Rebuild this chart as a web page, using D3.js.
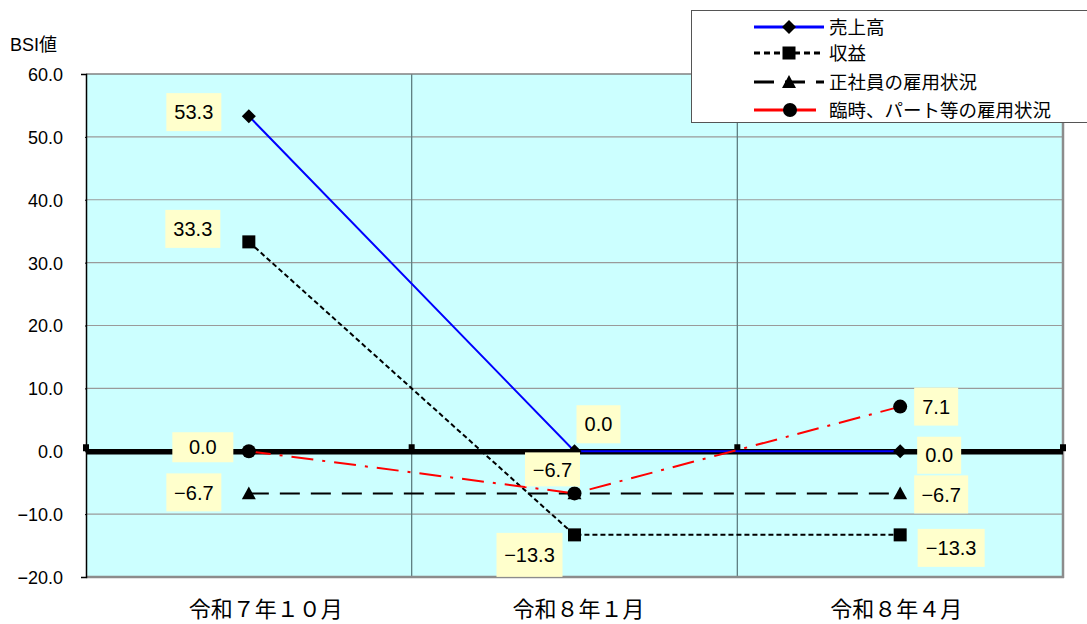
<!DOCTYPE html>
<html lang="ja">
<head>
<meta charset="utf-8">
<script src="https://cdn.jsdelivr.net/npm/d3@7"></script>
<style>
  html, body { margin: 0; padding: 0; background: #fff; }
  svg { display: block; }
  .num { font-family: "Liberation Sans", Arial, sans-serif; }
  .jp { font-family: "Noto Sans CJK JP", sans-serif; }
</style>
</head>
<body>
<svg id="chart" width="1087" height="624"></svg>
<script>
// ---- data ----
const categories = ["令和７年１０月", "令和８年１月", "令和８年４月"];
const seriesNames = ["売上高", "収益", "正社員の雇用状況", "臨時、パート等の雇用状況"];
const sales = [53.3, 0.0, 0.0];
const profit = [33.3, -13.3, -13.3];
const regularStaff = [-6.7, -6.7, -6.7];
const partTimeStaff = [0.0, -6.7, 7.1];
const yTicks = [-20, -10, 0, 10, 20, 30, 40, 50, 60];
const yTitle = "BSI値";

// ---- layout ----
const plot = { left: 86, right: 1063, top: 74, bottom: 577 };

const svg = d3.select("#chart");

const x = d3.scaleBand().domain(categories).range([plot.left, plot.right]).padding(0);
const y = d3.scaleLinear().domain([-20, 60]).range([plot.bottom, plot.top]);
const cx = c => x(c) + x.bandwidth() / 2;

// series styling
const series = [
  { name: seriesNames[0], values: sales,         color: "#0000ff", width: 2,   dash: null,       marker: "diamond" },
  { name: seriesNames[1], values: profit,        color: "#000000", width: 2,   dash: "5,3",      marker: "square" },
  { name: seriesNames[2], values: regularStaff,  color: "#000000", width: 2,   dash: "20,11",    marker: "triangle" },
  { name: seriesNames[3], values: partTimeStaff, color: "#ff0000", width: 2,   dash: "22,9,3,9", marker: "circle" }
];

// value label boxes: offsets from the point, box size
const labelLayout = [
  { s: 0, i: 0, dx: -55, dy: -4,  w: 55, h: 38 },
  { s: 1, i: 0, dx: -56, dy: -13, w: 55, h: 38 },
  { s: 3, i: 0, dx: -46, dy: -4,  w: 61, h: 30 },
  { s: 2, i: 0, dx: -55, dy: -1,  w: 55, h: 38 },
  { s: 0, i: 1, dx: 24,  dy: -27, w: 44, h: 38 },
  { s: 3, i: 1, dx: -22, dy: -24, w: 55, h: 34 },
  { s: 1, i: 1, dx: -45, dy: 20,  w: 66, h: 44 },
  { s: 3, i: 2, dx: 36,  dy: 0,   w: 44, h: 38 },
  { s: 0, i: 2, dx: 39,  dy: 4,   w: 44, h: 37 },
  { s: 2, i: 2, dx: 41,  dy: 1,   w: 54, h: 38 },
  { s: 1, i: 2, dx: 51,  dy: 13,  w: 67, h: 38 }
];
const categoryLabelShift = [17, 4, -4];

// ---- plot background ----
svg.append("rect")
  .attr("x", plot.left).attr("y", plot.top)
  .attr("width", plot.right - plot.left).attr("height", plot.bottom - plot.top)
  .attr("fill", "#ccffff");

// horizontal grid lines
svg.append("g")
  .selectAll("line")
  .data(yTicks.filter(t => t !== 0 && t !== -20 && t !== 60))
  .join("line")
  .attr("x1", plot.left).attr("x2", plot.right)
  .attr("y1", d => y(d)).attr("y2", d => y(d))
  .attr("stroke", "#9a9a9a").attr("stroke-width", 1.2);

// vertical grid lines at category boundaries
svg.append("g")
  .selectAll("line")
  .data(categories.slice(1))
  .join("line")
  .attr("x1", d => x(d)).attr("x2", d => x(d))
  .attr("y1", plot.top).attr("y2", plot.bottom)
  .attr("stroke", "#5f7f82").attr("stroke-width", 1.3);

// plot frame
svg.append("line").attr("x1", plot.left).attr("x2", plot.right).attr("y1", plot.top).attr("y2", plot.top)
  .attr("stroke", "#808080").attr("stroke-width", 1.3);
svg.append("line").attr("x1", plot.right).attr("x2", plot.right).attr("y1", plot.top).attr("y2", plot.bottom + 1)
  .attr("stroke", "#8c8c8c").attr("stroke-width", 2.5);
svg.append("line").attr("x1", plot.left).attr("x2", plot.right + 1).attr("y1", plot.bottom).attr("y2", plot.bottom)
  .attr("stroke", "#8c8c8c").attr("stroke-width", 2.5);

// y axis
const yAxis = d3.axisLeft(y).tickValues(yTicks).tickFormat(d3.format(".1f")).tickSize(5).tickPadding(18);
const gy = svg.append("g").attr("transform", `translate(${plot.left},0)`).call(yAxis);
gy.select(".domain").attr("stroke", "#000").attr("stroke-width", 1.5);
gy.selectAll(".tick line").attr("stroke", "#000").attr("x2", 0).attr("x1", -1);
gy.selectAll(".tick text")
  .attr("class", "num").attr("font-size", 18).attr("fill", "#000")
  .attr("dy", "0.36em");

// y axis title
svg.append("text").attr("x", 10).attr("y", 51)
  .attr("font-size", 18).attr("fill", "#000").text(yTitle)
  .style("font-family", "'Liberation Sans', 'Noto Sans CJK JP', sans-serif");

// zero line with boundary ticks
const zeroY = y(0);
svg.append("line")
  .attr("x1", plot.left).attr("x2", plot.right)
  .attr("y1", zeroY + 0.5).attr("y2", zeroY + 0.5)
  .attr("stroke", "#000").attr("stroke-width", 5.5);
const boundaries = [plot.left, ...categories.slice(1).map(c => x(c)), plot.right];
svg.append("g").selectAll("rect").data(boundaries).join("rect")
  .attr("x", d => d - 3).attr("y", zeroY - 7).attr("width", 6).attr("height", 7)
  .attr("fill", "#000");

// category axis labels
const xAxis = d3.axisBottom(x).tickSize(0).tickPadding(0);
const gx = svg.append("g").attr("transform", `translate(0,${plot.bottom})`).call(xAxis);
gx.select(".domain").remove();
gx.selectAll(".tick text")
  .attr("class", "jp").attr("font-size", 22).attr("fill", "#000")
  .attr("y", 40).attr("dy", 0)
  .attr("dx", (d, i) => categoryLabelShift[i]);

// ---- series lines ----
const line = d3.line().x(d => cx(d.c)).y(d => y(d.v));
series.forEach(s => {
  const pts = categories.map((c, i) => ({ c, v: s.values[i] }));
  svg.append("path")
    .datum(pts)
    .attr("d", line)
    .attr("fill", "none")
    .attr("stroke", s.color)
    .attr("stroke-width", s.width)
    .attr("stroke-dasharray", s.dash);
});

// ---- markers ----
function drawMarker(g, type, px, py, scale = 1) {
  if (type === "diamond") {
    const r = 7 * scale;
    g.append("path").attr("d", `M${px},${py - r}L${px + r},${py}L${px},${py + r}L${px - r},${py}Z`).attr("fill", "#000");
  } else if (type === "square") {
    const r = 6.5 * scale;
    g.append("rect").attr("x", px - r).attr("y", py - r).attr("width", 2 * r).attr("height", 2 * r).attr("fill", "#000");
  } else if (type === "triangle") {
    const r = 7 * scale;
    g.append("path").attr("d", `M${px},${py - r}L${px + r},${py + r * 0.85}L${px - r},${py + r * 0.85}Z`).attr("fill", "#000");
  } else if (type === "circle") {
    g.append("circle").attr("cx", px).attr("cy", py).attr("r", 7 * scale).attr("fill", "#000");
  }
}
const markers = svg.append("g");
series.forEach(s => {
  categories.forEach((c, i) => drawMarker(markers, s.marker, cx(c), y(s.values[i])));
});

// ---- value labels ----
const labels = svg.append("g");
labelLayout.forEach(l => {
  const s = series[l.s];
  const v = s.values[l.i];
  const px = cx(categories[l.i]) + l.dx;
  const py = y(v) + l.dy;
  labels.append("rect")
    .attr("x", px - l.w / 2).attr("y", py - l.h / 2)
    .attr("width", l.w).attr("height", l.h)
    .attr("fill", "#ffffcc");
  labels.append("text")
    .attr("class", "num")
    .attr("x", px).attr("y", py)
    .attr("dy", "0.36em")
    .attr("text-anchor", "middle")
    .attr("font-size", 20)
    .attr("fill", "#000")
    .text(d3.format(".1f")(v));
});

// ---- legend ----
const legend = svg.append("g").attr("transform", "translate(691,10)");
legend.append("rect")
  .attr("x", 0.5).attr("y", 0.5).attr("width", 400).attr("height", 112)
  .attr("fill", "#fff").attr("stroke", "#555").attr("stroke-width", 1);
const rowY = [17, 43, 72, 100];
const legendDash = [null, "6,4", "20,11", null];
series.forEach((s, i) => {
  const gy0 = rowY[i];
  legend.append("line")
    .attr("x1", 63).attr("x2", i === 3 ? 125 : 133)
    .attr("y1", gy0).attr("y2", gy0)
    .attr("stroke", s.color).attr("stroke-width", 2.8)
    .attr("stroke-dasharray", legendDash[i]);
  drawMarker(legend, s.marker, i === 3 ? 99 : 98, gy0, 1);
  legend.append("text")
    .attr("class", "jp")
    .attr("x", 138).attr("y", gy0)
    .attr("dy", "0.36em")
    .attr("font-size", 18.5)
    .attr("fill", "#000")
    .text(s.name);
});
</script>
</body>
</html>
